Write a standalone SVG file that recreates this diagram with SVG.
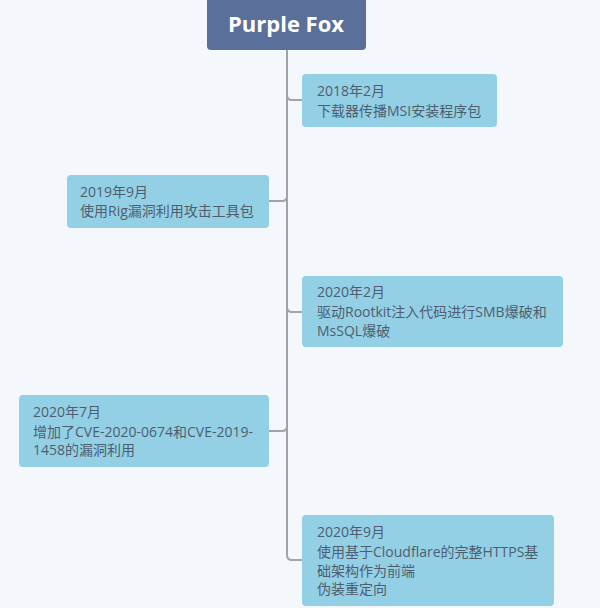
<svg xmlns="http://www.w3.org/2000/svg" width="600" height="608" viewBox="0 0 600 608">
<style>
.bg{fill:#f4f8fc}
.node rect{fill:#93d0e5}
.node text{font-family:"Open Sans","Noto Sans CJK SC",sans-serif;font-size:14px;fill:#4e5e6e}
.root rect{fill:#5b6f9b}
.root text{font-family:"Open Sans","Noto Sans CJK SC",sans-serif;font-size:22px;font-weight:bold;fill:#ffffff}
.conn path{fill:none;stroke:#a0a2ac;stroke-width:2}
</style>
<rect class="bg" x="0" y="0" width="600" height="608"/>
<g id="connectors" class="conn">
<path d="M287,50 L287,555 Q287,560 292,560 L302,560"/>
<path d="M287,95 Q287,100 292,100 L302,100"/>
<path d="M287,196 Q287,201 282,201 L269,201"/>
<path d="M287,307 Q287,312 292,312 L302,312"/>
<path d="M287,426 Q287,431 282,431 L269,431"/>
</g>
<g id="root" class="root">
<rect x="207" y="-6" width="159" height="56" rx="4"/>
<text x="286" y="32" text-anchor="middle">Purple Fox</text>
</g>
<g id="n2018" class="node">
<rect x="302" y="74" width="195" height="53" rx="4"/>
<text x="317" y="96">2018年2月</text>
<text x="317" y="116">下载器传播MSI安装程序包</text>
</g>
<g id="n2019" class="node">
<rect x="67" y="175" width="202" height="53" rx="4"/>
<text x="80" y="197">2019年9月</text>
<text x="80" y="216">使用Rig漏洞利用攻击工具包</text>
</g>
<g id="n2020a" class="node">
<rect x="302" y="276" width="261" height="71" rx="4"/>
<text x="317" y="297">2020年2月</text>
<text x="317" y="317">驱动Rootkit注入代码进行SMB爆破和</text>
<text x="317" y="336">MsSQL爆破</text>
</g>
<g id="n2020b" class="node">
<rect x="19" y="395" width="250" height="72" rx="4"/>
<text x="33" y="417">2020年7月</text>
<text x="33" y="437">增加了CVE-2020-0674和CVE-2019-</text>
<text x="33" y="455">1458的漏洞利用</text>
</g>
<g id="n2020c" class="node">
<rect x="302" y="515" width="252" height="91" rx="4"/>
<text x="317" y="537">2020年9月</text>
<text x="317" y="557">使用基于Cloudflare的完整HTTPS基</text>
<text x="317" y="576">础架构作为前端</text>
<text x="317" y="594">伪装重定向</text>
</g>
</svg>
